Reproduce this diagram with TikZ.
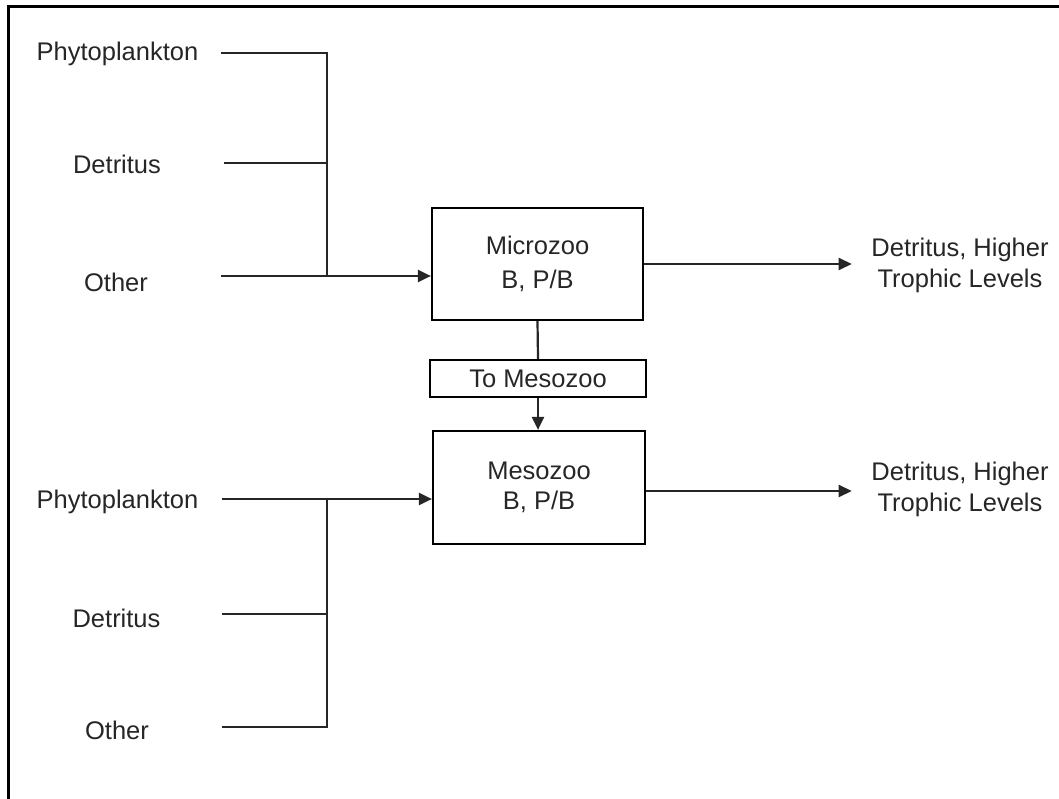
\documentclass[tikz,border=0pt]{standalone}
\usepackage{fontspec}
\setmainfont{Liberation Sans}
\usetikzlibrary{arrows.meta,calc}
\begin{document}
\begin{tikzpicture}[x=1pt,y=-1pt,
  lbl/.style={inner sep=0pt, font=\fontsize{25.5}{31}\selectfont, anchor=base, text=black!85},
  rlbl/.style={inner sep=0pt, align=center, font=\fontsize{25.5}{31}\selectfont, text=black!85},
  box/.style={draw, line width=2.2pt, inner sep=0pt, align=center, text=black!85},
  conn/.style={line width=2.2pt, draw=black!85},
  arr/.style={conn, -{Triangle[length=13pt,width=12pt]}},
]
\useasboundingbox (0,0) rectangle (1059,799);
\draw[line width=3pt] (1059,6.5) -- (8.5,6.5) -- (8.5,799);

% top inputs
\node[lbl] (p1) at (117.5,61) {Phytoplankton};
\node[lbl] (d1) at (117,174) {Detritus};
\node[lbl] (o1) at (116,292) {Other};
% bottom inputs
\node[lbl] (p2) at (117.5,508) {Phytoplankton};
\node[lbl] (d2) at (116.5,627) {Detritus};
\node[lbl] (o2) at (117,739) {Other};

% boxes
\node[box, minimum width=211pt, minimum height=112pt, font=\fontsize{25.5}{34}\selectfont]
  (micro) at (537.5,264) {Microzoo\\B, P/B};
\node[box, minimum width=216pt, minimum height=37pt, font=\fontsize{25.5}{30}\selectfont]
  (tomeso) at (538,378.5) {To Mesozoo};
\node[box, minimum width=212pt, minimum height=113pt, font=\fontsize{25.5}{30}\selectfont]
  (meso) at (539,487.5) {Mesozoo\\B, P/B};

% outputs
\node[rlbl] (rt1) at (960,265) {Detritus, Higher\\Trophic Levels};
\node[rlbl] (rt2) at (960,489) {Detritus, Higher\\Trophic Levels};

% top connectors
\coordinate (a1) at (221,53);
\coordinate (j1) at (327,53);
\coordinate (a2) at (224,163);
\coordinate (j2) at (327,163);
\coordinate (a3) at (221,276);
\coordinate (j3) at (327,276);
\draw[conn] (a1) -- (j1) -- (j3);
\draw[conn] (a2) -- (j2);
\draw[arr] (a3) -- (a3 -| micro.west);

% bottom connectors
\coordinate (b1) at (222,499);
\coordinate (k1) at (327,499);
\coordinate (b2) at (222,614);
\coordinate (k2) at (328,614);
\coordinate (b3) at (222,727);
\coordinate (k3) at (328,727);
\draw[arr] (b1) -- (b1 -| meso.west);
\draw[conn] (k1) -- (327,727) -- (k3);
\draw[conn] (b2) -- (k2);
\draw[conn] (b3) -- (k3);

% vertical flow
\draw[conn] (micro.south) -- (tomeso.north);
\draw[arr] (tomeso.south) -- (tomeso.south |- meso.north);

% outputs
\draw[arr, shorten >=19.5pt] (micro.east) -- (micro.east -| rt1.west);
\draw[arr, shorten >=19.5pt] ($(meso.east)+(0,3.5)$) -- ($(meso.east -| rt2.west)+(0,3.5)$);
\end{tikzpicture}
\end{document}
